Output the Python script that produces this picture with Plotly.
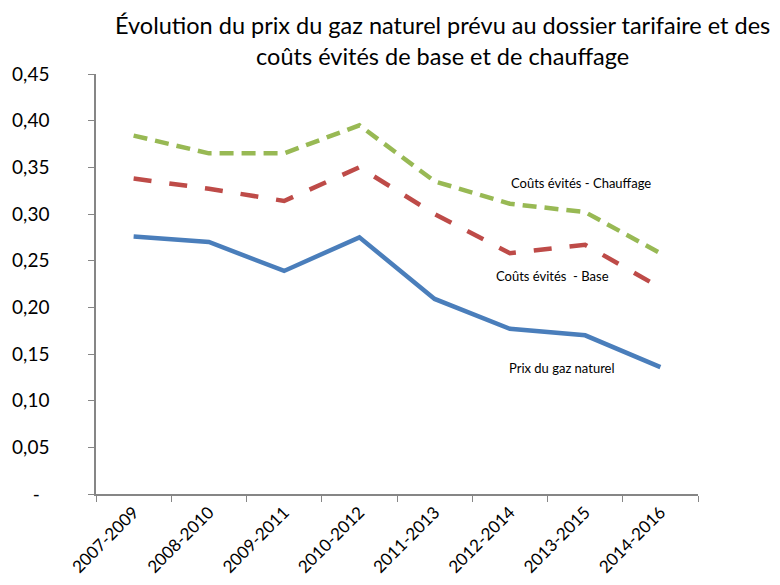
import plotly.graph_objects as go

categories = ["2007-2009", "2008-2010", "2009-2011", "2010-2012",
              "2011-2013", "2012-2014", "2013-2015", "2014-2016"]
prix_gaz = [0.276, 0.270, 0.239, 0.275, 0.209, 0.177, 0.170, 0.136]
couts_base = [0.338, 0.327, 0.314, 0.350, 0.300, 0.258, 0.267, 0.221]
couts_chauffage = [0.384, 0.365, 0.365, 0.395, 0.335, 0.311, 0.302, 0.258]
ytick_vals = [0, 0.05, 0.10, 0.15, 0.20, 0.25, 0.30, 0.35, 0.40, 0.45]
ytick_text = ["-&nbsp;&nbsp;", "0,05", "0,10", "0,15", "0,20", "0,25", "0,30", "0,35", "0,40", "0,45"]

FONT = "Lato, Roboto, sans-serif"

fig = go.Figure()
fig.add_trace(go.Scatter(x=categories, y=prix_gaz, mode="lines",
                         line=dict(color="#4A7EBB", width=4.5), name="Prix du gaz naturel"))
fig.add_trace(go.Scatter(x=categories, y=couts_base, mode="lines",
                         line=dict(color="#BE4B48", width=4.5, dash="18px,18px"), name="Coûts évités - Base"))
fig.add_trace(go.Scatter(x=categories, y=couts_chauffage, mode="lines",
                         line=dict(color="#98B954", width=4.5, dash="14px,8px"), name="Coûts évités - Chauffage"))

fig.add_annotation(x=5.95, y=0.333, text="Coûts évités - Chauffage", showarrow=False,
                   font=dict(size=13, color="black", family=FONT))
fig.add_annotation(x=5.57, y=0.2333, text="Coûts évités  - Base", showarrow=False,
                   font=dict(size=13, color="black", family=FONT))
fig.add_annotation(x=5.69, y=0.1347, text="Prix du gaz naturel", showarrow=False,
                   font=dict(size=13, color="black", family=FONT))

# title as a paper-anchored annotation
fig.add_annotation(xref="paper", yref="paper", x=0.5764, y=1.0787, xanchor="center", yanchor="middle",
                   text="Évolution du prix du gaz naturel prévu au dossier tarifaire et des<br>coûts évités de base et de chauffage",
                   showarrow=False, font=dict(size=23.5, color="black", family=FONT))

fig.update_layout(
    width=772, height=577,
    margin=dict(l=88, r=82, t=66, b=91),
    paper_bgcolor="white", plot_bgcolor="white",
    showlegend=False,
    font=dict(family=FONT, color="black"),
)
fig.update_xaxes(type="category", range=[-0.5, 7.5], showline=True, linecolor="#868686", linewidth=1.5,
                 ticks="outside", tickson="boundaries", ticklen=6, tickcolor="#868686", automargin=False,
                 tickangle=-45, tickfont=dict(size=17, family=FONT), showgrid=False, zeroline=False)
fig.update_yaxes(range=[0, 0.45], tickvals=ytick_vals, ticktext=ytick_text, showline=True, automargin=False,
                 linecolor="#868686", linewidth=1.5, ticks="outside", ticklen=6, tickcolor="#868686",
                 tickfont=dict(size=19, family=FONT), showgrid=False, zeroline=False, ticklabelstandoff=35)

fig.write_html("out.html")
